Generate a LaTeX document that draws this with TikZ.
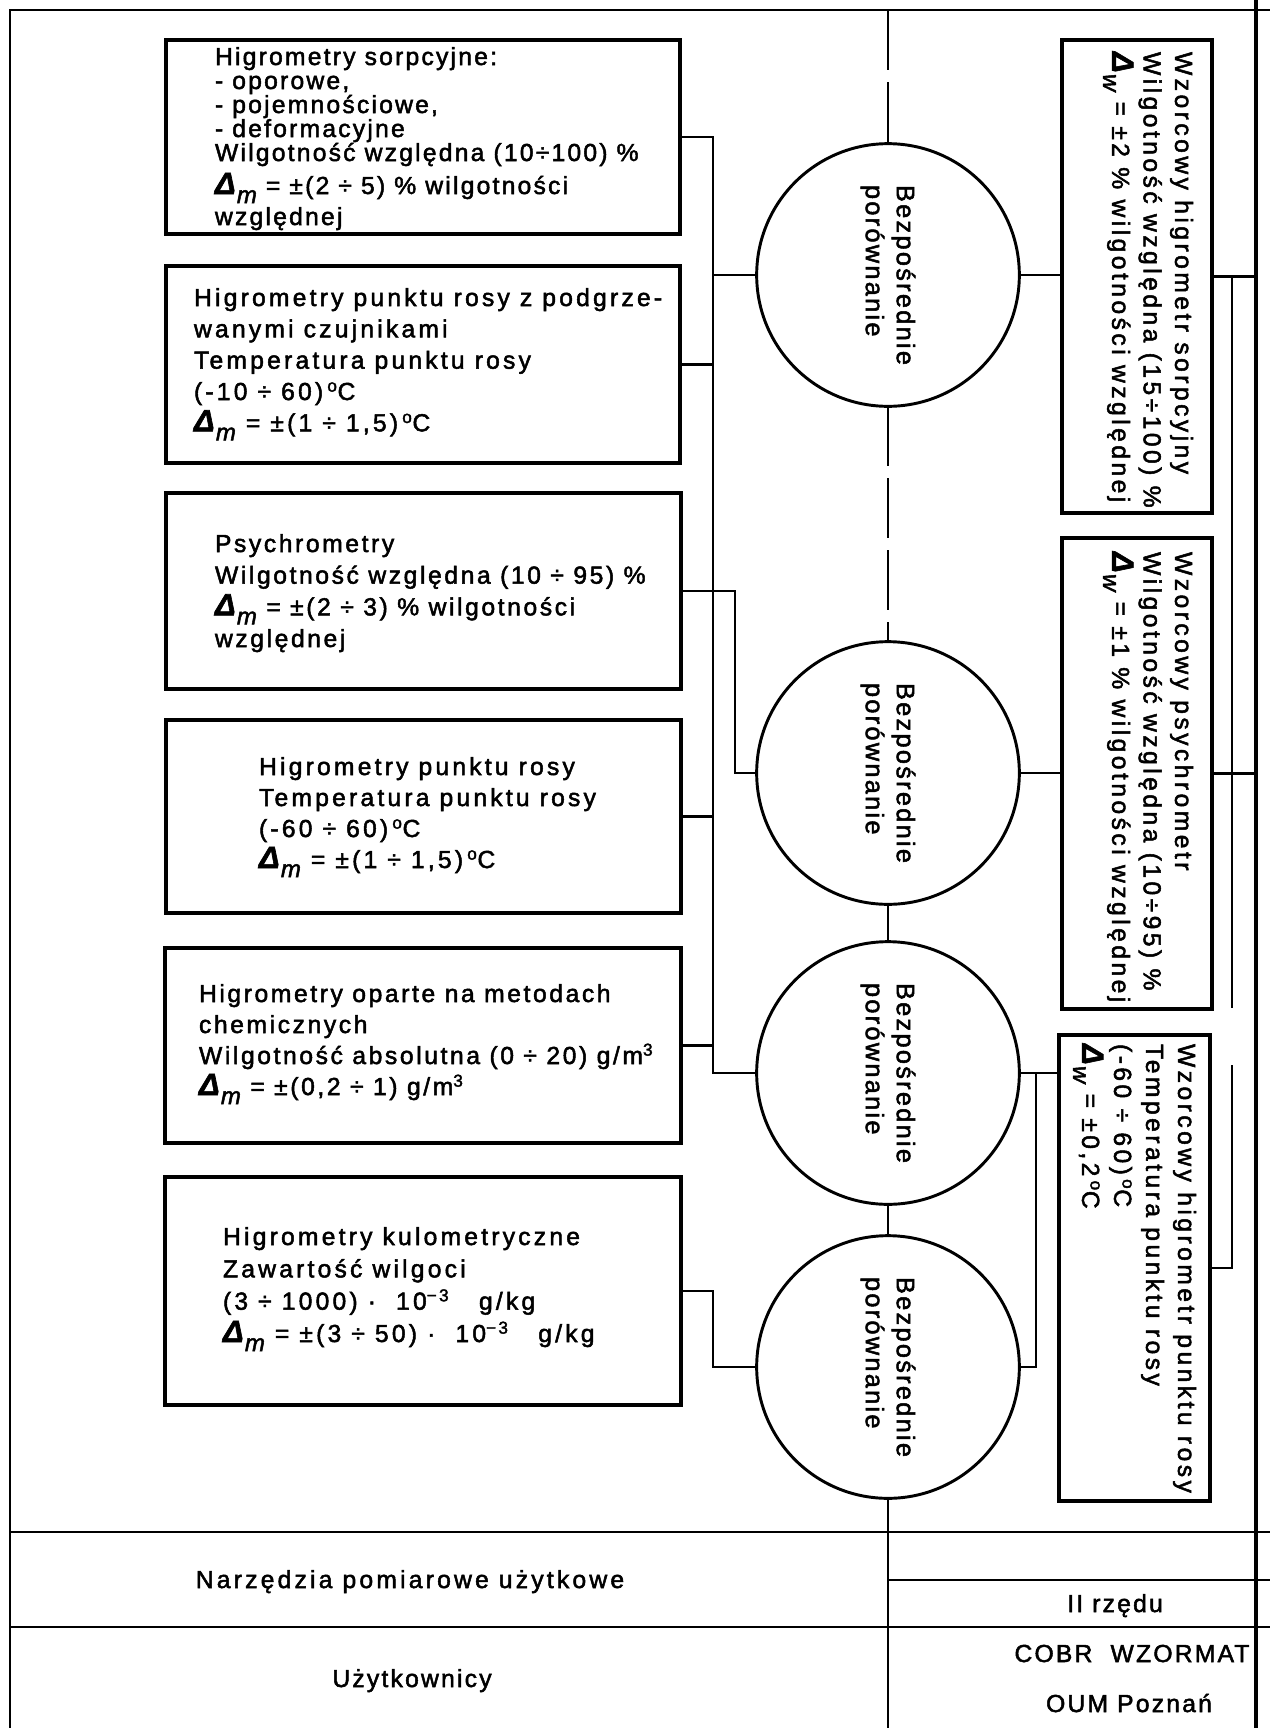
\documentclass[tikz,border=0pt]{standalone}
\usepackage{fontspec}
\setmainfont{Liberation Sans}[LetterSpace=9, FakeBold=2]
\usetikzlibrary{fit}

% multi-line left-aligned block: baseline is the first line, lines are
% spaced by exactly \baselineskip whatever their content
\newcommand\txtblock[1]{\vtop{\lineskiplimit=-\maxdimen\lineskip=0pt
  \halign{##\hfil\cr#1\crcr}}}
% error symbol with an italic index
\newcommand\Dsub[1]{\smash{{\fontsize{23}{23}\selectfont\bfseries\itshape Δ}\kern1pt\raisebox{-0.7ex}{\fontsize{18}{18}\selectfont$\mathit{#1}$}}}
\newcommand\degC{\textsuperscript{o}C}

\begin{document}
\begin{tikzpicture}[x=0.75pt, y=-0.75pt,
  box/.style={draw, line width=3pt, inner sep=0pt, outer sep=0pt},
  cmp/.style={draw, circle, line width=2.2pt, minimum size=197pt, inner sep=0pt, outer sep=0pt},
  conn/.style={line width=1.6pt},
  axisline/.style={line width=1.6pt, dash pattern=on 45pt off 9pt},
  frame/.style={line width=2pt},
  rim/.style={line width=3pt},
  txt/.style={inner sep=0pt, outer sep=0pt, anchor=base west},
  rtxt/.style={inner sep=0pt, outer sep=0pt, anchor=north east},
  ctxt/.style={inner sep=0pt, outer sep=0pt, anchor=base}]

\fill[white] (0,0) rectangle (1270,1728);
\useasboundingbox (0,0) rectangle (1270,1728);

% ---------- outer frame and table ----------
\coordinate (fTL) at (10,10);
\coordinate (fBL) at (10,1728);
\coordinate (fTR) at (1270,10);
\coordinate (rimT) at (1256,0);
\coordinate (rimB) at (1256,1728);
\draw[frame] (fBL) -- (fTL) -- (fTR);
\draw[rim] (rimT) -- (rimB);
\coordinate (xB) at (1256,0);

\coordinate (h1a) at (10,1532);   \coordinate (h1b) at (1270,1532);
\coordinate (h2a) at (888,1580);  \coordinate (h2b) at (1270,1580);
\coordinate (h3a) at (10,1627);   \coordinate (h3b) at (1270,1627);
\draw[frame] (h1a) -- (h1b);
\draw[frame] (h2a) -- (h2b);
\draw[frame] (h3a) -- (h3b);

% ---------- measuring instruments in use ----------
\node[box, fit={(166,40) (680,234)}] (b1) {};
\node[box, fit={(166,266) (680,463)}] (b2) {};
\node[box, fit={(166,493) (681,689)}] (b3) {};
\node[box, fit={(166,720) (681,913)}] (b4) {};
\node[box, fit={(165,948) (681,1143)}] (b5) {};
\node[box, fit={(165,1177) (681,1405)}] (b6) {};

\node[txt] (t1) at (215,65) {\fontsize{18.5}{18}\selectfont\txtblock{%
  Higrometry sorpcyjne:\cr
  - oporowe,\cr
  - pojemnościowe,\cr
  - deformacyjne\cr
  Wilgotność względna (10÷100) \%\cr\noalign{\vskip6.75pt}
  \Dsub{m} = ±(2 ÷ 5) \% wilgotności\cr\noalign{\vskip5.25pt}
  względnej}};

\node[txt] (t2) at (194,306) {\fontsize{18.5}{23.5}\selectfont\addfontfeature{LetterSpace=13}\txtblock{%
  Higrometry punktu rosy z podgrze-\cr
  wanymi czujnikami\cr
  Temperatura punktu rosy\cr
  (-10 ÷ 60)\,\degC\cr
  \Dsub{m} = ±(1 ÷ 1,5)\,\degC}};

\node[txt] (t3) at (215,552) {\fontsize{18.5}{23.75}\selectfont\addfontfeature{LetterSpace=10.5}\txtblock{%
  Psychrometry\cr
  Wilgotność względna (10 ÷ 95) \%\cr
  \Dsub{m} = ±(2 ÷ 3) \% wilgotności\cr
  względnej}};

\node[txt] (t4) at (259,775) {\fontsize{18.5}{23.25}\selectfont\addfontfeature{LetterSpace=13}\txtblock{%
  Higrometry punktu rosy\cr
  Temperatura punktu rosy\cr
  (-60 ÷ 60)\,\degC\cr
  \Dsub{m} = ±(1 ÷ 1,5)\,\degC}};

\node[txt] (t5) at (199,1002) {\fontsize{18.5}{23.25}\selectfont\addfontfeature{LetterSpace=10.5}\txtblock{%
  Higrometry oparte na metodach\cr
  chemicznych\cr
  Wilgotność absolutna (0 ÷ 20) g/m\textsuperscript{3}\cr
  \Dsub{m} = ±(0,2 ÷ 1) g/m\textsuperscript{3}}};

\node[txt] (t6) at (223,1245) {\fontsize{18.5}{24.25}\selectfont\addfontfeature{LetterSpace=13}\txtblock{%
  Higrometry kulometryczne\cr
  Zawartość wilgoci\cr
  (3 ÷ 1000) ·\ \ 10\textsuperscript{−3}\hspace{1.2em}g/kg\cr
  \Dsub{m} = ±(3 ÷ 50) ·\ \ 10\textsuperscript{−3}\hspace{1.2em}g/kg}};

% ---------- direct comparison ----------
\node[cmp] (c1) at (888,275) {\rotatebox{-90}{\fontsize{19}{23.25}\selectfont\txtblock{Bezpośrednie\cr porównanie}}};
\node[cmp] (c2) at (888,773) {\rotatebox{-90}{\fontsize{19}{23.25}\selectfont\txtblock{Bezpośrednie\cr porównanie}}};
\node[cmp] (c3) at (888,1073) {\rotatebox{-90}{\fontsize{19}{23.25}\selectfont\txtblock{Bezpośrednie\cr porównanie}}};
\node[cmp] (c4) at (888,1367) {\rotatebox{-90}{\fontsize{19}{23.25}\selectfont\txtblock{Bezpośrednie\cr porównanie}}};

% ---------- reference instruments ----------
\node[box, fit={(1062,40) (1212,513)}] (r1) {};
\node[box, fit={(1062,538) (1212,1009)}] (r2) {};
\node[box, fit={(1059,1035) (1210,1501)}] (r3) {};

\node[rtxt] (s1) at (1193,52) {\rotatebox{-90}{\fontsize{18.5}{23.6}\selectfont\addfontfeature{LetterSpace=14}\txtblock{%
  Wzorcowy higrometr sorpcyjny\cr
  Wilgotność względna (15÷100) \%\cr
  \Dsub{w} = ±2 \% wilgotności względnej}}};
\node[rtxt] (s2) at (1193,552) {\rotatebox{-90}{\fontsize{18.5}{23.6}\selectfont\addfontfeature{LetterSpace=14}\txtblock{%
  Wzorcowy psychrometr\cr
  Wilgotność względna (10÷95) \%\cr
  \Dsub{w} = ±1 \% wilgotności względnej}}};
\node[rtxt] (s3) at (1196,1044) {\rotatebox{-90}{\fontsize{18.5}{24}\selectfont\addfontfeature{LetterSpace=14}\txtblock{%
  Wzorcowy higrometr punktu rosy\cr
  Temperatura punktu rosy\cr
  (-60 ÷ 60)\,\degC\cr
  \Dsub{w} = ±0,2\,\degC}}};

% ---------- axis between the two columns ----------
\coordinate (topC) at (888,10);
\coordinate (botC) at (888,1728);
\draw[axisline] (topC) -- (c1.north);
\draw[axisline] (c1.south) -- (c2.north);
\draw[conn] (c2.south) -- (c3.north);
\draw[conn] (c3.south) -- (c4.north);
\draw[conn] (c4.south) -- (botC);

% ---------- connectors, instruments in use ----------
\coordinate (xL) at (713,0);
\coordinate (xL3) at (735,0);
\draw[conn] (b1.east) -- (b1.east -| xL) -- (c3.west -| xL) -- (c3.west);
\draw[conn] (c1.west) -- (c1.west -| xL);
\draw[conn] (b2.east) -- (b2.east -| xL);
\draw[conn] (b4.east) -- (b4.east -| xL);
\draw[conn] (b5.east) -- (b5.east -| xL);
\draw[conn] (b3.east) -- (b3.east -| xL3) -- (c2.west -| xL3) -- (c2.west);
\draw[conn] (b6.east) -- (b6.east -| xL) -- (c4.west -| xL) -- (c4.west);

% ---------- connectors, reference instruments ----------
\coordinate (xR) at (1036,0);
\draw[conn] (c1.east) -- (c1.east -| r1.west);
\draw[conn] (c2.east) -- (c2.east -| r2.west);
\draw[conn] (c3.east) -- (c3.east -| r3.west);
\draw[conn] (c4.east) -- (c4.east -| xR) -- (c3.east -| xR);

\coordinate (xV) at (1232,0);
\coordinate (vEnd) at (1232,1008);
\coordinate (vTop) at (1232,1065);
\draw[conn] (r1.east) -- (r1.east -| xB);
\draw[conn] (r2.east) -- (r2.east -| xB);
\draw[conn] (r1.east -| xV) -- (vEnd);
\draw[conn] (r3.east) -- (r3.east -| xV) -- (vTop);

% ---------- table texts ----------
\node[ctxt] (u1) at (410,1588) {\fontsize{18.5}{19}\selectfont\addfontfeature{LetterSpace=13}Narzędzia pomiarowe użytkowe};
\node[ctxt] (u2) at (412,1687) {\fontsize{18.5}{19}\selectfont Użytkownicy};
\node[ctxt] (u3) at (1115,1612) {\fontsize{18.5}{19}\selectfont II rzędu};
\node[ctxt] (u4) at (1132,1662) {\fontsize{18.5}{19}\selectfont COBR\ \ WZORMAT};
\node[ctxt] (u5) at (1129,1712) {\fontsize{18.5}{19}\selectfont OUM Poznań};
\end{tikzpicture}
\end{document}
